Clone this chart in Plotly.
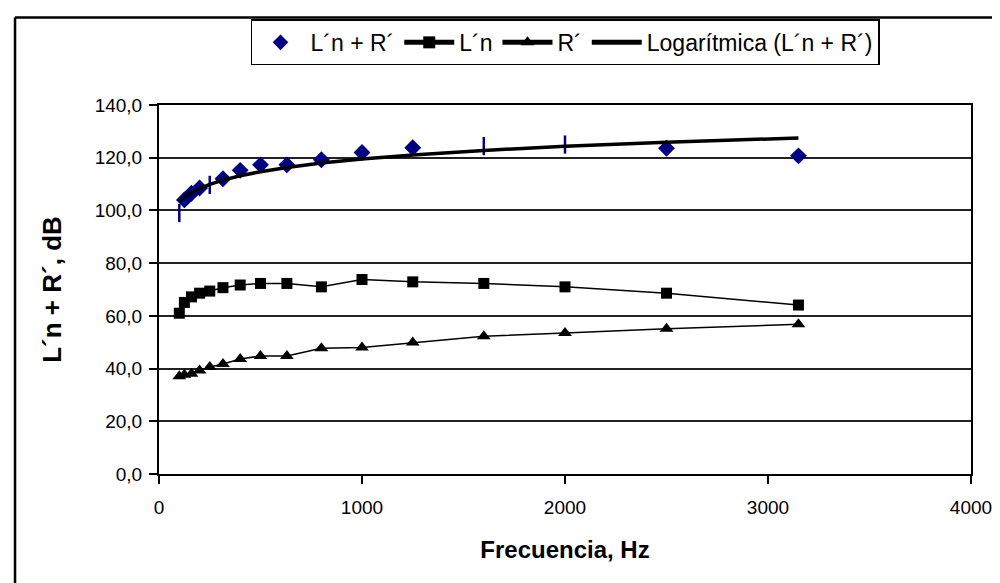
import numpy as np
import plotly.graph_objects as go

# ---- data ----
freq = [100, 125, 160, 200, 250, 315, 400, 500, 630, 800, 1000, 1250, 1600, 2000, 2500, 3150]
ln_plus_r = [99.0, 104.0, 106.5, 108.5, 109.7, 112.0, 115.2, 117.3, 117.3, 119.2, 122.0, 123.8, 124.4, 125.0, 123.6, 120.7]
ln = [61.0, 65.1, 67.2, 68.6, 69.4, 70.7, 71.7, 72.3, 72.3, 71.0, 73.8, 72.9, 72.3, 71.0, 68.6, 64.1]
r = [37.1, 37.7, 38.0, 39.3, 40.6, 41.7, 43.6, 44.8, 44.8, 47.7, 48.0, 49.9, 52.3, 53.5, 55.1, 56.8]
# points of the first series that Excel drew as thin vertical strokes
stroke_points = [100, 250, 1600, 2000]

x_ticks = [0, 1000, 2000, 3000, 4000]
x_tick_labels = ["0", "1000", "2000", "3000", "4000"]
y_ticks = [0, 20, 40, 60, 80, 100, 120, 140]
y_tick_labels = ["0,0", "20,0", "40,0", "60,0", "80,0", "100,0", "120,0", "140,0"]

# logarithmic trendline fitted to L'n + R'
coef = np.polyfit(np.log(freq), ln_plus_r, 1)
trend = list(np.polyval(coef, np.log(freq)))

FONT = "Liberation Sans, Arial, sans-serif"
NAVY = "#000080"

dia_x = [f for f in freq if f not in stroke_points]
dia_y = [v for f, v in zip(freq, ln_plus_r) if f not in stroke_points]
stk_x = [f for f in freq if f in stroke_points]
stk_y = [v for f, v in zip(freq, ln_plus_r) if f in stroke_points]

fig = go.Figure()
fig.add_trace(go.Scatter(
    x=dia_x, y=dia_y, mode="markers", name="L\u00b4n + R\u00b4", legendgroup="a",
    marker=dict(symbol="diamond", size=13, color=NAVY),
))
fig.add_trace(go.Scatter(
    x=stk_x, y=stk_y, mode="markers", name="L\u00b4n + R\u00b4", legendgroup="a", showlegend=False,
    marker=dict(symbol="line-ns", size=13, color=NAVY, line=dict(color=NAVY, width=2.5)),
))
fig.add_trace(go.Scatter(
    x=freq, y=ln, mode="lines+markers", name="L\u00b4n",
    line=dict(color="black", width=1.5),
    marker=dict(symbol="square", size=11, color="black"),
))
fig.add_trace(go.Scatter(
    x=freq, y=r, mode="lines+markers", name="R\u00b4",
    line=dict(color="black", width=1.5),
    marker=dict(symbol="triangle-up", size=12, color="black"),
))
fig.add_trace(go.Scatter(
    x=freq, y=trend, mode="lines", name="Logar\u00edtmica (L\u00b4n + R\u00b4)",
    line=dict(color="black", width=3.5),
))

fig.update_layout(
    width=1000, height=583,
    margin=dict(l=151, r=37, t=91, b=117),
    paper_bgcolor="white", plot_bgcolor="white",
    font=dict(family=FONT, size=19, color="black"),
    showlegend=True,
    legend=dict(
        orientation="h", x=0.5, xanchor="center", y=1.232, yanchor="top",
        bordercolor="black", borderwidth=1.5, bgcolor="white",
        font=dict(family=FONT, size=23, color="black"),
        itemsizing="constant", tracegroupgap=0, itemwidth=50,
    ),
    xaxis=dict(
        range=[0, 4000], tickvals=x_ticks, ticktext=x_tick_labels,
        showgrid=False, zeroline=False,
        showline=True, linecolor="black", linewidth=2, mirror=True,
        ticks="outside", ticklen=8, tickwidth=1.5, tickcolor="black",
        ticklabelstandoff=7,
        title=dict(text="<b>Frecuencia, Hz</b>", font=dict(family=FONT, size=24), standoff=24),
    ),
    yaxis=dict(
        range=[0, 140], tickvals=y_ticks, ticktext=y_tick_labels,
        showgrid=True, gridcolor="#222222", gridwidth=1.5, zeroline=False,
        showline=True, linecolor="black", linewidth=2, mirror=True,
        ticks="outside", ticklen=8, tickwidth=1.5, tickcolor="black",
        ticklabelstandoff=3,
        title=dict(text="<b>L\u00b4n + R\u00b4, dB</b>", font=dict(family=FONT, size=26), standoff=26),
    ),
    shapes=[
        dict(type="line", xref="paper", yref="paper", x0=-0.1773, x1=1.06, y0=1.237, y1=1.237,
             line=dict(color="black", width=2.5)),
        dict(type="line", xref="paper", yref="paper", x0=-0.1773, x1=-0.1773, y0=1.237, y1=-0.35,
             line=dict(color="black", width=2.5)),
    ],
)

fig.write_html("out.html")
